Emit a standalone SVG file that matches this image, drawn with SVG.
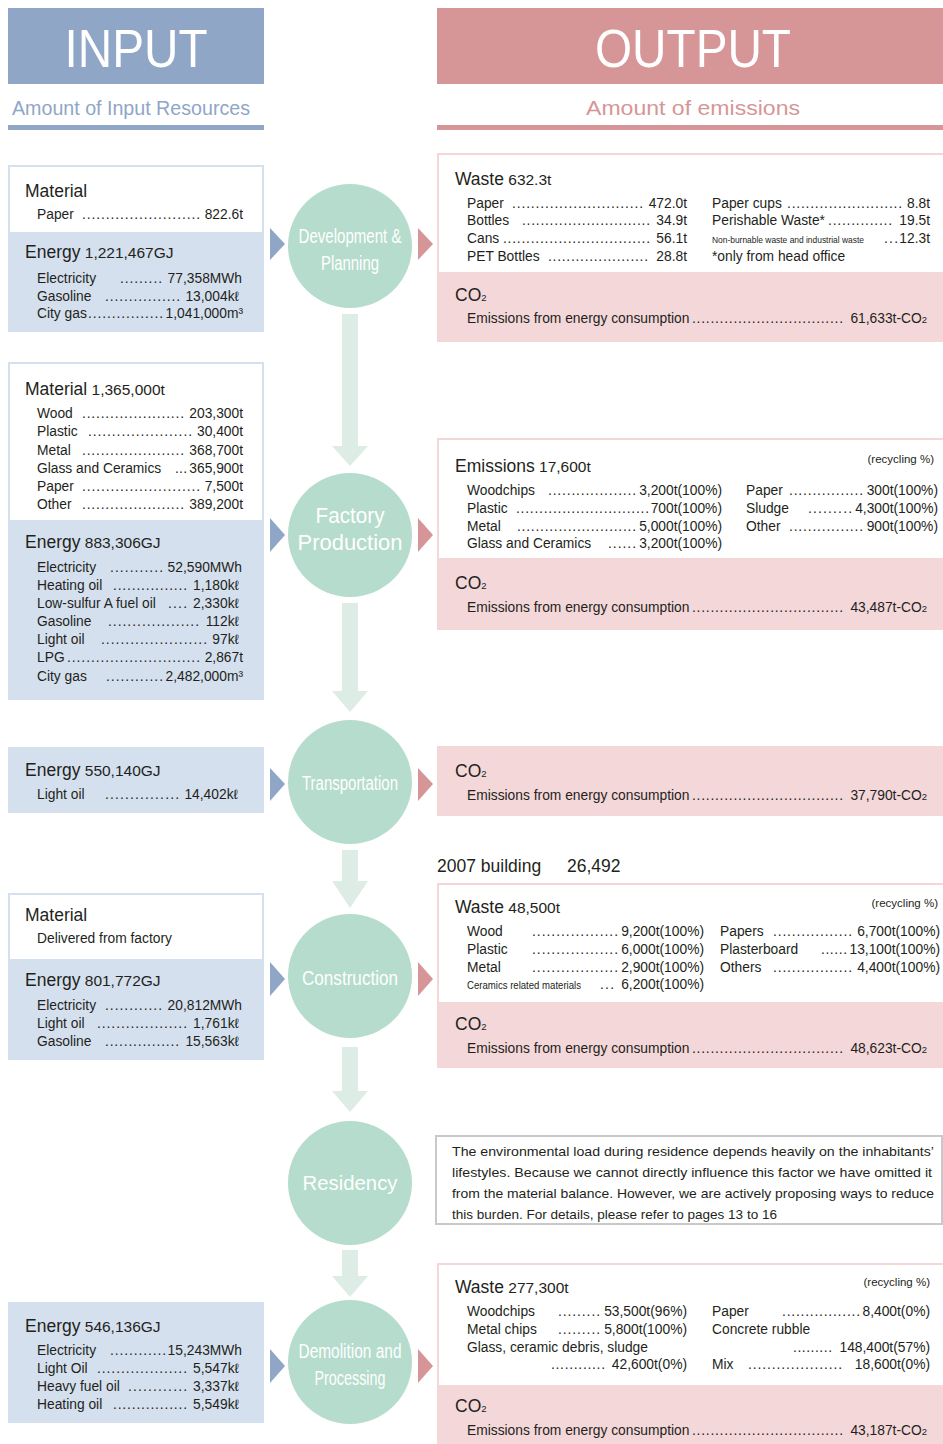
<svg xmlns="http://www.w3.org/2000/svg" width="943" height="1444" viewBox="0 0 943 1444">
<style>
text { font-family: "Liberation Sans", Arial, sans-serif; fill: #231f20; }
.h { font-size: 17.5px; }
.n { font-size: 15.5px; }
.i { font-size: 13.8px; }
.v { font-size: 13.8px; text-anchor: end; }
.d { font-size: 13.8px; }
.s { font-size: 11.5px; }
.sm { font-size: 11px; }
.sub { font-size: 9.5px; }
.c { font-size: 20px; fill: #ffffff; text-anchor: middle; }
.ib { fill: #d5e0ee; }
.iw { fill: #ffffff; }
.ob { fill: #f4d7d9; }
.circ { fill: #b5dccc; }
.conn { fill: #ddede6; }
.tb { fill: #8fa6c7; }
.tr { fill: #d69697; }
.para { font-size: 13.5px; }
</style>

<!-- Headers -->
<g id="header-input">
  <rect class="tb" x="8" y="8" width="256" height="76"/>
  <text x="136" y="67" style="font-size:54px;fill:#fff" text-anchor="middle" textLength="143" lengthAdjust="spacingAndGlyphs">INPUT</text>
  <text x="12" y="115" style="font-size:21px;fill:#8fa6c7" textLength="238" lengthAdjust="spacingAndGlyphs">Amount of Input Resources</text>
  <rect class="tb" x="8" y="125" width="256" height="5"/>
</g>
<g id="header-output">
  <rect class="tr" x="437" y="8" width="506" height="76"/>
  <text x="693" y="67" style="font-size:54px;fill:#fff" text-anchor="middle" textLength="196" lengthAdjust="spacingAndGlyphs">OUTPUT</text>
  <text x="586" y="115" style="font-size:21px;fill:#d69697" textLength="214" lengthAdjust="spacingAndGlyphs">Amount of emissions</text>
  <rect class="tr" x="437" y="125" width="506" height="5"/>
</g>

<!-- Connectors -->
<g id="connectors">
  <polygon class="conn" points="342,314 358,314 358,446 368,446 350,466 332,446 342,446"/>
  <polygon class="conn" points="342,603 358,603 358,691 368,691 350,712 332,691 342,691"/>
  <polygon class="conn" points="342,850 358,850 358,881 368,881 350,908 332,881 342,881"/>
  <polygon class="conn" points="342,1047 358,1047 358,1091 368,1091 350,1112 332,1091 342,1091"/>
  <polygon class="conn" points="342,1250 358,1250 358,1276 368,1276 350,1297 332,1276 342,1276"/>
  <polygon class="tb" points="270,228 285,244 270,260"/>
  <polygon class="tr" points="418,228 433,244 418,260"/>
  <polygon class="tb" points="270,518 285,535 270,552"/>
  <polygon class="tr" points="418,518 433,535 418,552"/>
  <polygon class="tb" points="270,768 285,784 270,801"/>
  <polygon class="tr" points="418,768 433,784 418,801"/>
  <polygon class="tb" points="270,962 285,979 270,996"/>
  <polygon class="tr" points="418,962 433,979 418,996"/>
  <polygon class="tb" points="270,1349 285,1366 270,1383"/>
  <polygon class="tr" points="418,1349 433,1366 418,1383"/>
</g>

<!-- Process circles -->
<g id="node-development">
  <circle class="circ" cx="350" cy="246" r="62"/>
  <text class="c" x="350" y="243" textLength="103" lengthAdjust="spacingAndGlyphs">Development &amp;</text>
  <text class="c" x="350" y="270" textLength="58" lengthAdjust="spacingAndGlyphs">Planning</text>
</g>
<g id="node-factory">
  <circle class="circ" cx="350" cy="535" r="62"/>
  <text class="c" x="350" y="523" style="font-size:22px" textLength="69" lengthAdjust="spacingAndGlyphs">Factory</text>
  <text class="c" x="350" y="550" style="font-size:22px" textLength="105" lengthAdjust="spacingAndGlyphs">Production</text>
</g>
<g id="node-transportation">
  <circle class="circ" cx="350" cy="782" r="62"/>
  <text class="c" x="350" y="790" textLength="96" lengthAdjust="spacingAndGlyphs">Transportation</text>
</g>
<g id="node-construction">
  <circle class="circ" cx="350" cy="976" r="62"/>
  <text class="c" x="350" y="985" style="font-size:21px" textLength="96" lengthAdjust="spacingAndGlyphs">Construction</text>
</g>
<g id="node-residency">
  <circle class="circ" cx="350" cy="1183" r="62"/>
  <text class="c" x="350" y="1190" style="font-size:21px" textLength="95" lengthAdjust="spacingAndGlyphs">Residency</text>
</g>
<g id="node-demolition">
  <circle class="circ" cx="350" cy="1362" r="62"/>
  <text class="c" x="350" y="1358" textLength="103" lengthAdjust="spacingAndGlyphs">Demolition and</text>
  <text class="c" x="350" y="1385" textLength="71" lengthAdjust="spacingAndGlyphs">Processing</text>
</g>

<!-- Input boxes -->
<g id="input-development">
  <rect class="ib" x="8" y="165" width="256" height="167"/>
  <rect class="iw" x="10" y="167" width="252" height="65"/>
  <text class="h" x="25" y="197">Material</text>
  <text class="i" x="37" y="219">Paper</text>
  <text class="d" x="82" y="219" textLength="118" lengthAdjust="spacing">.........................</text>
  <text class="v" x="243" y="219">822.6t</text>
  <text class="h" x="25" y="258">Energy<tspan class="n"> 1,221,467GJ</tspan></text>
  <text class="i" x="37" y="283">Electricity</text>
  <text class="d" x="120" y="283" textLength="42" lengthAdjust="spacing">.........</text>
  <text class="v" x="242" y="283">77,358MWh</text>
  <text class="i" x="37" y="301">Gasoline</text>
  <text class="d" x="105" y="301" textLength="75" lengthAdjust="spacing">................</text>
  <text class="v" x="239" y="301">13,004kℓ</text>
  <text class="i" x="37" y="318">City gas</text>
  <text class="d" x="88" y="318" textLength="75" lengthAdjust="spacing">................</text>
  <text class="v" x="243" y="318">1,041,000m³</text>
</g>

<g id="input-factory">
  <rect class="ib" x="8" y="362" width="256" height="338"/>
  <rect class="iw" x="10" y="364" width="252" height="156"/>
  <text class="h" x="25" y="395">Material<tspan class="n"> 1,365,000t</tspan></text>
  <text class="i" x="37" y="418">Wood</text>
  <text class="d" x="82" y="418" textLength="102" lengthAdjust="spacing">......................</text>
  <text class="v" x="243" y="418">203,300t</text>
  <text class="i" x="37" y="436">Plastic</text>
  <text class="d" x="88" y="436" textLength="104" lengthAdjust="spacing">......................</text>
  <text class="v" x="243" y="436">30,400t</text>
  <text class="i" x="37" y="455">Metal</text>
  <text class="d" x="82" y="455" textLength="102" lengthAdjust="spacing">......................</text>
  <text class="v" x="243" y="455">368,700t</text>
  <text class="i" x="37" y="473">Glass and Ceramics</text>
  <text class="d" x="175" y="473" textLength="12" lengthAdjust="spacing">...</text>
  <text class="v" x="243" y="473">365,900t</text>
  <text class="i" x="37" y="491">Paper</text>
  <text class="d" x="82" y="491" textLength="118" lengthAdjust="spacing">.........................</text>
  <text class="v" x="243" y="491">7,500t</text>
  <text class="i" x="37" y="509">Other</text>
  <text class="d" x="82" y="509" textLength="102" lengthAdjust="spacing">......................</text>
  <text class="v" x="243" y="509">389,200t</text>
  <text class="h" x="25" y="548">Energy<tspan class="n"> 883,306GJ</tspan></text>
  <text class="i" x="37" y="572">Electricity</text>
  <text class="d" x="110" y="572" textLength="53" lengthAdjust="spacing">...........</text>
  <text class="v" x="242" y="572">52,590MWh</text>
  <text class="i" x="37" y="590">Heating oil</text>
  <text class="d" x="113" y="590" textLength="74" lengthAdjust="spacing">................</text>
  <text class="v" x="239" y="590">1,180kℓ</text>
  <text class="i" x="37" y="608">Low-sulfur A fuel oil</text>
  <text class="d" x="168" y="608" textLength="19" lengthAdjust="spacing">....</text>
  <text class="v" x="239" y="608">2,330kℓ</text>
  <text class="i" x="37" y="626">Gasoline</text>
  <text class="d" x="108" y="626" textLength="91" lengthAdjust="spacing">...................</text>
  <text class="v" x="239" y="626">112kℓ</text>
  <text class="i" x="37" y="644">Light oil</text>
  <text class="d" x="101" y="644" textLength="106" lengthAdjust="spacing">......................</text>
  <text class="v" x="239" y="644">97kℓ</text>
  <text class="i" x="37" y="662">LPG</text>
  <text class="d" x="67" y="662" textLength="133" lengthAdjust="spacing">............................</text>
  <text class="v" x="243" y="662">2,867t</text>
  <text class="i" x="37" y="681">City gas</text>
  <text class="d" x="106" y="681" textLength="57" lengthAdjust="spacing">............</text>
  <text class="v" x="243" y="681">2,482,000m³</text>
</g>

<g id="input-transportation">
  <rect class="ib" x="8" y="747" width="256" height="66"/>
  <text class="h" x="25" y="776">Energy<tspan class="n"> 550,140GJ</tspan></text>
  <text class="i" x="37" y="799">Light oil</text>
  <text class="d" x="105" y="799" textLength="74" lengthAdjust="spacing">...............</text>
  <text class="v" x="238" y="799">14,402kℓ</text>
</g>

<g id="input-construction">
  <rect class="ib" x="8" y="893" width="256" height="167"/>
  <rect class="iw" x="10" y="895" width="252" height="64"/>
  <text class="h" x="25" y="921">Material</text>
  <text class="i" x="37" y="943">Delivered from factory</text>
  <text class="h" x="25" y="986">Energy<tspan class="n"> 801,772GJ</tspan></text>
  <text class="i" x="37" y="1010">Electricity</text>
  <text class="d" x="105" y="1010" textLength="57" lengthAdjust="spacing">............</text>
  <text class="v" x="242" y="1010">20,812MWh</text>
  <text class="i" x="37" y="1028">Light oil</text>
  <text class="d" x="97" y="1028" textLength="90" lengthAdjust="spacing">...................</text>
  <text class="v" x="239" y="1028">1,761kℓ</text>
  <text class="i" x="37" y="1046">Gasoline</text>
  <text class="d" x="105" y="1046" textLength="74" lengthAdjust="spacing">................</text>
  <text class="v" x="239" y="1046">15,563kℓ</text>
</g>

<g id="input-demolition">
  <rect class="ib" x="8" y="1302" width="256" height="121"/>
  <text class="h" x="25" y="1332">Energy<tspan class="n"> 546,136GJ</tspan></text>
  <text class="i" x="37" y="1355">Electricity</text>
  <text class="d" x="110" y="1355" textLength="56" lengthAdjust="spacing">............</text>
  <text class="v" x="242" y="1355">15,243MWh</text>
  <text class="i" x="37" y="1373">Light Oil</text>
  <text class="d" x="97" y="1373" textLength="90" lengthAdjust="spacing">...................</text>
  <text class="v" x="239" y="1373">5,547kℓ</text>
  <text class="i" x="37" y="1391">Heavy fuel oil</text>
  <text class="d" x="128" y="1391" textLength="59" lengthAdjust="spacing">............</text>
  <text class="v" x="239" y="1391">3,337kℓ</text>
  <text class="i" x="37" y="1409">Heating oil</text>
  <text class="d" x="113" y="1409" textLength="74" lengthAdjust="spacing">................</text>
  <text class="v" x="239" y="1409">5,549kℓ</text>
</g>

<!-- Output boxes -->
<g id="output-development">
  <rect class="ob" x="437" y="153" width="506" height="189"/>
  <rect class="iw" x="439" y="155" width="504" height="117"/>
  <text class="h" x="455" y="185">Waste<tspan class="n"> 632.3t</tspan></text>
  <text class="i" x="467" y="208">Paper</text>
  <text class="d" x="512" y="208" textLength="131" lengthAdjust="spacing">............................</text>
  <text class="v" x="687" y="208">472.0t</text>
  <text class="i" x="467" y="225">Bottles</text>
  <text class="d" x="522" y="225" textLength="128" lengthAdjust="spacing">............................</text>
  <text class="v" x="687" y="225">34.9t</text>
  <text class="i" x="467" y="243">Cans</text>
  <text class="d" x="503" y="243" textLength="147" lengthAdjust="spacing">................................</text>
  <text class="v" x="687" y="243">56.1t</text>
  <text class="i" x="467" y="261">PET Bottles</text>
  <text class="d" x="548" y="261" textLength="100" lengthAdjust="spacing">......................</text>
  <text class="v" x="687" y="261">28.8t</text>
  <text class="i" x="712" y="208">Paper cups</text>
  <text class="d" x="787" y="208" textLength="115" lengthAdjust="spacing">.........................</text>
  <text class="v" x="930" y="208">8.8t</text>
  <text class="i" x="712" y="225">Perishable Waste*</text>
  <text class="d" x="828" y="225" textLength="64" lengthAdjust="spacing">..............</text>
  <text class="v" x="930" y="225">19.5t</text>
  <text x="712" y="243" style="font-size:9.5px" textLength="152" lengthAdjust="spacingAndGlyphs">Non-burnable waste and industrial waste</text>
  <text class="d" x="884" y="243" textLength="14" lengthAdjust="spacing">...</text>
  <text class="v" x="930" y="243">12.3t</text>
  <text class="i" x="712" y="261">*only from head office</text>
  <text class="h" x="455" y="301">CO<tspan class="sub">2</tspan></text>
  <text class="i" x="467" y="323">Emissions from energy consumption</text>
  <text class="d" x="692" y="323" textLength="151" lengthAdjust="spacing">.................................</text>
  <text class="v" x="927" y="323">61,633t-CO<tspan class="sub">2</tspan></text>
</g>

<g id="output-factory">
  <rect class="ob" x="437" y="438" width="506" height="192"/>
  <rect class="iw" x="439" y="440" width="504" height="118"/>
  <text class="h" x="455" y="472">Emissions<tspan class="n"> 17,600t</tspan></text>
  <text class="s" x="934" y="463" text-anchor="end">(recycling %)</text>
  <text class="i" x="467" y="495">Woodchips</text>
  <text class="d" x="548" y="495" textLength="88" lengthAdjust="spacing">...................</text>
  <text class="v" x="722" y="495">3,200t(100%)</text>
  <text class="i" x="467" y="513">Plastic</text>
  <text class="d" x="516" y="513" textLength="133" lengthAdjust="spacing">.............................</text>
  <text class="v" x="722" y="513">700t(100%)</text>
  <text class="i" x="467" y="531">Metal</text>
  <text class="d" x="517" y="531" textLength="119" lengthAdjust="spacing">..........................</text>
  <text class="v" x="722" y="531">5,000t(100%)</text>
  <text class="i" x="467" y="548">Glass and Ceramics</text>
  <text class="d" x="608" y="548" textLength="28" lengthAdjust="spacing">......</text>
  <text class="v" x="722" y="548">3,200t(100%)</text>
  <text class="i" x="746" y="495">Paper</text>
  <text class="d" x="789" y="495" textLength="74" lengthAdjust="spacing">................</text>
  <text class="v" x="938" y="495">300t(100%)</text>
  <text class="i" x="746" y="513">Sludge</text>
  <text class="d" x="808" y="513" textLength="44" lengthAdjust="spacing">.........</text>
  <text class="v" x="938" y="513">4,300t(100%)</text>
  <text class="i" x="746" y="531">Other</text>
  <text class="d" x="789" y="531" textLength="74" lengthAdjust="spacing">................</text>
  <text class="v" x="938" y="531">900t(100%)</text>
  <text class="h" x="455" y="589">CO<tspan class="sub">2</tspan></text>
  <text class="i" x="467" y="612">Emissions from energy consumption</text>
  <text class="d" x="692" y="612" textLength="151" lengthAdjust="spacing">.................................</text>
  <text class="v" x="927" y="612">43,487t-CO<tspan class="sub">2</tspan></text>
</g>

<g id="output-transportation">
  <rect class="ob" x="437" y="746" width="506" height="70"/>
  <text class="h" x="455" y="777">CO<tspan class="sub">2</tspan></text>
  <text class="i" x="467" y="800">Emissions from energy consumption</text>
  <text class="d" x="692" y="800" textLength="151" lengthAdjust="spacing">.................................</text>
  <text class="v" x="927" y="800">37,790t-CO<tspan class="sub">2</tspan></text>
</g>

<g id="building-count">
  <text class="h" x="437" y="872">2007 building</text>
  <text class="h" x="567" y="872">26,492</text>
</g>

<g id="output-construction">
  <rect class="ob" x="437" y="883" width="506" height="185"/>
  <rect class="iw" x="439" y="885" width="504" height="117"/>
  <text class="h" x="455" y="913">Waste<tspan class="n"> 48,500t</tspan></text>
  <text class="s" x="938" y="907" text-anchor="end">(recycling %)</text>
  <text class="i" x="467" y="936">Wood</text>
  <text class="d" x="532" y="936" textLength="86" lengthAdjust="spacing">..................</text>
  <text class="v" x="704" y="936">9,200t(100%)</text>
  <text class="i" x="467" y="954">Plastic</text>
  <text class="d" x="532" y="954" textLength="86" lengthAdjust="spacing">..................</text>
  <text class="v" x="704" y="954">6,000t(100%)</text>
  <text class="i" x="467" y="972">Metal</text>
  <text class="d" x="532" y="972" textLength="86" lengthAdjust="spacing">..................</text>
  <text class="v" x="704" y="972">2,900t(100%)</text>
  <text class="sm" x="467" y="989" textLength="114" lengthAdjust="spacingAndGlyphs">Ceramics related materials</text>
  <text class="d" x="600" y="989" textLength="14" lengthAdjust="spacing">...</text>
  <text class="v" x="704" y="989">6,200t(100%)</text>
  <text class="i" x="720" y="936">Papers</text>
  <text class="d" x="773" y="936" textLength="79" lengthAdjust="spacing">.................</text>
  <text class="v" x="940" y="936">6,700t(100%)</text>
  <text class="i" x="720" y="954">Plasterboard</text>
  <text class="d" x="821" y="954" textLength="26" lengthAdjust="spacing">......</text>
  <text class="v" x="940" y="954">13,100t(100%)</text>
  <text class="i" x="720" y="972">Others</text>
  <text class="d" x="773" y="972" textLength="79" lengthAdjust="spacing">.................</text>
  <text class="v" x="940" y="972">4,400t(100%)</text>
  <text class="h" x="455" y="1030">CO<tspan class="sub">2</tspan></text>
  <text class="i" x="467" y="1053">Emissions from energy consumption</text>
  <text class="d" x="692" y="1053" textLength="151" lengthAdjust="spacing">.................................</text>
  <text class="v" x="927" y="1053">48,623t-CO<tspan class="sub">2</tspan></text>
</g>

<g id="residency-note">
  <rect x="436" y="1136" width="506" height="88" fill="#ffffff" stroke="#c9c9c9" stroke-width="2"/>
  <text class="para" x="452" y="1156" textLength="482" lengthAdjust="spacingAndGlyphs">The environmental load during residence depends heavily on the inhabitants’</text>
  <text class="para" x="452" y="1177" textLength="480" lengthAdjust="spacingAndGlyphs">lifestyles. Because we cannot directly influence this factor we have omitted it</text>
  <text class="para" x="452" y="1198" textLength="482" lengthAdjust="spacingAndGlyphs">from the material balance. However, we are actively proposing ways to reduce</text>
  <text class="para" x="452" y="1219" textLength="325" lengthAdjust="spacingAndGlyphs">this burden. For details, please refer to pages 13 to 16</text>
</g>

<g id="output-demolition">
  <rect class="ob" x="437" y="1263" width="506" height="181"/>
  <rect class="iw" x="439" y="1265" width="504" height="120"/>
  <text class="h" x="455" y="1293">Waste<tspan class="n"> 277,300t</tspan></text>
  <text class="s" x="930" y="1286" text-anchor="end">(recycling %)</text>
  <text class="i" x="467" y="1316">Woodchips</text>
  <text class="d" x="558" y="1316" textLength="42" lengthAdjust="spacing">.........</text>
  <text class="v" x="687" y="1316">53,500t(96%)</text>
  <text class="i" x="467" y="1334">Metal chips</text>
  <text class="d" x="558" y="1334" textLength="42" lengthAdjust="spacing">.........</text>
  <text class="v" x="687" y="1334">5,800t(100%)</text>
  <text class="i" x="467" y="1352">Glass, ceramic debris, sludge</text>
  <text class="d" x="551" y="1369" textLength="54" lengthAdjust="spacing">............</text>
  <text class="v" x="687" y="1369">42,600t(0%)</text>
  <text class="i" x="712" y="1316">Paper</text>
  <text class="d" x="782" y="1316" textLength="78" lengthAdjust="spacing">.................</text>
  <text class="v" x="930" y="1316">8,400t(0%)</text>
  <text class="i" x="712" y="1334">Concrete rubble</text>
  <text class="d" x="793" y="1352" textLength="39" lengthAdjust="spacing">.........</text>
  <text class="v" x="930" y="1352">148,400t(57%)</text>
  <text class="i" x="712" y="1369">Mix</text>
  <text class="d" x="748" y="1369" textLength="94" lengthAdjust="spacing">....................</text>
  <text class="v" x="930" y="1369">18,600t(0%)</text>
  <text class="h" x="455" y="1412">CO<tspan class="sub">2</tspan></text>
  <text class="i" x="467" y="1435">Emissions from energy consumption</text>
  <text class="d" x="692" y="1435" textLength="151" lengthAdjust="spacing">.................................</text>
  <text class="v" x="927" y="1435">43,187t-CO<tspan class="sub">2</tspan></text>
</g>
</svg>
